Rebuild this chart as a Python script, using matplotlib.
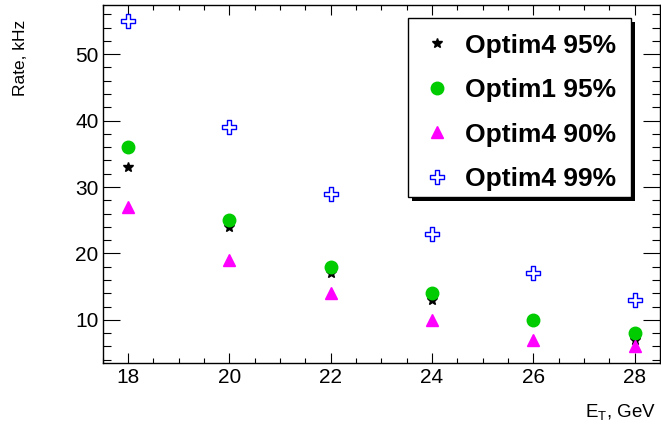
import numpy as np
import matplotlib
matplotlib.use('Agg')
import matplotlib.pyplot as plt
from matplotlib.path import Path
from matplotlib.patches import Rectangle
from matplotlib.ticker import MultipleLocator

plt.rcParams['font.family'] = ['Liberation Sans', 'DejaVu Sans']
plt.rcParams['mathtext.fontset'] = 'custom'
plt.rcParams['mathtext.rm'] = 'Liberation Sans'
plt.rcParams['mathtext.it'] = 'Liberation Sans:italic'

# E_T thresholds, GeV
et = [18, 20, 22, 24, 26, 28]
# rates, kHz
optim4_95 = [33, 24, 17, 13, 10, 7]
optim1_95 = [36, 25, 18, 14, 10, 8]
optim4_90 = [27, 19, 14, 10, 7, 6]
optim4_99 = [55, 39, 29, 23, 17, 13]

W, H = 661, 428

# ROOT style open cross marker (outline of a plus)
a = 1.0 / 3
cross_verts = [(-a, 1), (a, 1), (a, a), (1, a), (1, -a), (a, -a), (a, -1),
               (-a, -1), (-a, -a), (-1, -a), (-1, a), (-a, a), (-a, 1)]
open_cross = Path(cross_verts, closed=True)

fig = plt.figure(figsize=(W/100, H/100), dpi=100)
ax = fig.add_axes([102.7/W, 65.3/H, 557.3/W, 358/H])

s1, = ax.plot(et, optim4_95, ls='none', marker='*', ms=7.5, color='black', label='Optim4 95%')
s2, = ax.plot(et, optim1_95, ls='none', marker='o', ms=9, color='#00cc00', label='Optim1 95%')
s3, = ax.plot(et, optim4_90, ls='none', marker='^', ms=8.6, color='#ff00ff', label='Optim4 90%')
s4, = ax.plot(et, optim4_99, ls='none', marker=open_cross, ms=9.6, mfc='white',
              mec='#0000ff', mew=1.0, label='Optim4 99%')

ax.set_xlim(17.5, 28.5)
ax.set_ylim(3.55, 57.45)
ax.xaxis.set_major_locator(MultipleLocator(2))
ax.xaxis.set_minor_locator(MultipleLocator(0.5))
ax.yaxis.set_major_locator(MultipleLocator(10))
ax.yaxis.set_minor_locator(MultipleLocator(2))

ax.tick_params(which='both', direction='in', top=True, right=True, width=0.8, labelsize=15)
ax.tick_params(axis='x', which='major', length=7.2, pad=4)
ax.tick_params(axis='x', which='minor', length=3.6)
ax.tick_params(axis='y', which='major', length=12, pad=3)
ax.tick_params(axis='y', which='minor', length=6)
for sp in ax.spines.values():
    sp.set_linewidth(1.0)

fig.text(21/W, 1 - 20/H, 'Rate, kHz', rotation=90, ha='center', va='top', fontsize=12.5)
fig.text(656/W, 1 - 417/H, r'E$_{\mathrm{T}}$, GeV', ha='right', va='baseline', fontsize=13.5)

# legend box with ROOT-like hard shadow
bx0, by0, bx1, by1 = 408, 18, 631, 197
fig.add_artist(Rectangle(((bx0 + 4)/W, 1 - (by1 + 4)/H), (bx1 - bx0)/W, (by1 - by0)/H,
                         transform=fig.transFigure, facecolor='black', edgecolor='none', zorder=2))
fig.add_artist(Rectangle((bx0/W, 1 - by1/H), (bx1 - bx0)/W, (by1 - by0)/H,
                         transform=fig.transFigure, facecolor='white', edgecolor='black',
                         linewidth=1.0, zorder=3))

leg = fig.legend(handles=[s1, s2, s3, s4], loc='upper left',
                 bbox_to_anchor=(bx0/W, 1 - 23/H), bbox_transform=fig.transFigure,
                 prop={'weight': 'bold', 'size': 19}, frameon=False,
                 borderpad=0.4, labelspacing=0.78,
                 handlelength=1.4, handletextpad=0.35, borderaxespad=0)
leg.set_zorder(5)

fig.savefig('out.png', dpi=100)
